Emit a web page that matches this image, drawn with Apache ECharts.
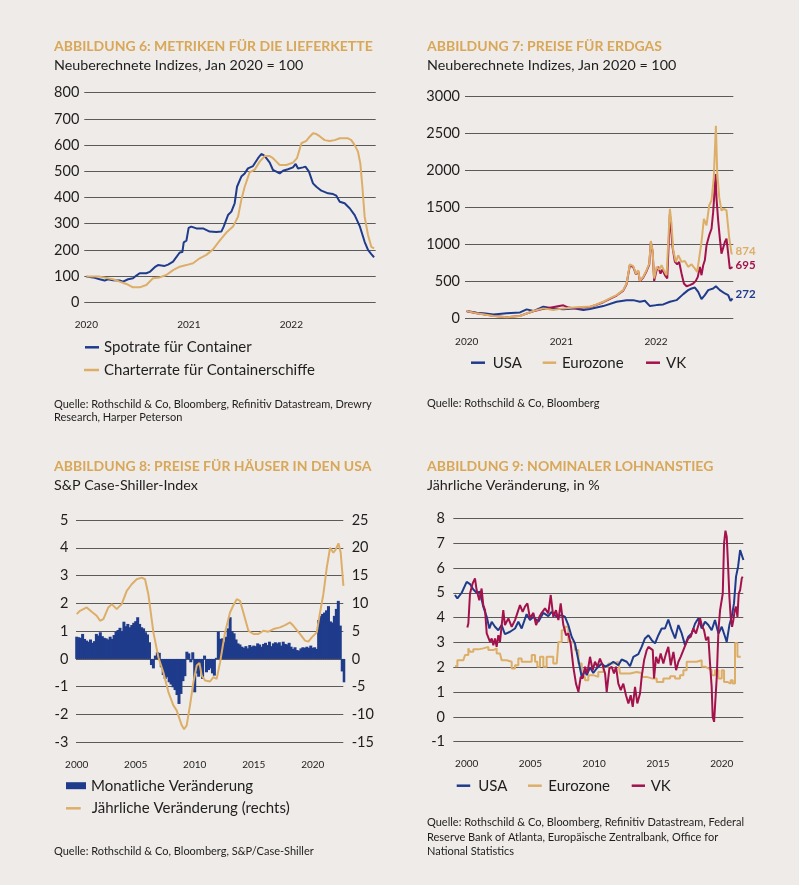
<!DOCTYPE html>
<html>
<head>
<meta charset="utf-8">
<script src="https://cdn.jsdelivr.net/npm/echarts@6/dist/echarts.min.js"></script>
<style>
html,body{margin:0;padding:0;background:#efebe8;}
#c{width:799px;height:885px;}
</style>
</head>
<body>
<div id="c"></div>
<script>
// ---------- Abbildung 6: Lieferkette (Jan 2020 = 100) ----------
const spotContainer = [[2020.00,98],[2020.065,95],[2020.13,88],[2020.179,83],[2020.195,79],[2020.211,88],[2020.26,84],[2020.325,83],[2020.358,79],[2020.407,88],[2020.455,92],[2020.488,102],[2020.52,111],[2020.585,111],[2020.618,116],[2020.667,134],[2020.699,142],[2020.764,139],[2020.797,144],[2020.846,155],[2020.911,190],[2020.937,192],[2020.95,229],[2020.976,235],[2020.998,284],[2021.024,289],[2021.073,282],[2021.138,282],[2021.203,270],[2021.268,268],[2021.317,270],[2021.34,289],[2021.382,333],[2021.415,346],[2021.447,378],[2021.47,441],[2021.512,480],[2021.545,492],[2021.577,511],[2021.626,520],[2021.675,550],[2021.707,566],[2021.73,562],[2021.756,550],[2021.789,533],[2021.821,505],[2021.854,499],[2021.886,492],[2021.919,502],[2021.967,508],[2022.016,515],[2022.042,528],[2022.065,511],[2022.114,515],[2022.137,518],[2022.172,499],[2022.211,454],[2022.244,441],[2022.293,426],[2022.358,416],[2022.407,413],[2022.439,407],[2022.472,384],[2022.52,378],[2022.569,359],[2022.618,333],[2022.667,291],[2022.715,231],[2022.748,200],[2022.78,184],[2022.807,172]];
const charterShips = [[2020.00,98],[2020.13,98],[2020.26,88],[2020.325,79],[2020.39,70],[2020.455,57],[2020.52,57],[2020.585,66],[2020.65,92],[2020.715,95],[2020.78,104],[2020.846,123],[2020.911,136],[2020.976,142],[2021.041,149],[2021.106,168],[2021.171,181],[2021.236,202],[2021.301,235],[2021.366,266],[2021.431,289],[2021.48,327],[2021.512,391],[2021.545,441],[2021.593,496],[2021.642,506],[2021.691,537],[2021.74,558],[2021.789,558],[2021.821,550],[2021.854,537],[2021.886,524],[2021.951,524],[2022.016,533],[2022.055,550],[2022.098,607],[2022.146,616],[2022.179,632],[2022.211,645],[2022.244,642],[2022.276,634],[2022.325,619],[2022.374,616],[2022.423,619],[2022.472,626],[2022.553,626],[2022.585,619],[2022.618,600],[2022.65,575],[2022.673,530],[2022.693,441],[2022.715,327],[2022.748,257],[2022.78,212],[2022.807,206]];
const yearTicks6 = [2020, 2021, 2022];

// ---------- Abbildung 7: Erdgas (Jan 2020 = 100) ----------
const gasUSA = [[2020.0,103],[2020.106,81],[2020.2,70],[2020.282,58],[2020.423,72],[2020.563,85],[2020.634,126],[2020.704,103],[2020.81,162],[2020.915,139],[2021.021,126],[2021.127,139],[2021.232,117],[2021.302,130],[2021.443,170],[2021.584,228],[2021.689,250],[2021.76,250],[2021.83,228],[2021.883,241],[2021.936,170],[2022.006,183],[2022.077,192],[2022.147,228],[2022.217,250],[2022.288,331],[2022.34,385],[2022.376,407],[2022.411,420],[2022.446,362],[2022.481,264],[2022.516,318],[2022.552,385],[2022.604,407],[2022.633,438],[2022.675,385],[2022.728,340],[2022.763,318],[2022.788,240],[2022.809,272]];
const gasEuro = [[2020.0,103],[2020.106,72],[2020.282,36],[2020.423,18],[2020.563,36],[2020.704,103],[2020.81,139],[2020.915,117],[2021.021,139],[2021.162,153],[2021.268,162],[2021.302,161],[2021.372,192],[2021.443,228],[2021.513,273],[2021.584,318],[2021.654,385],[2021.689,474],[2021.724,733],[2021.76,707],[2021.788,608],[2021.812,653],[2021.83,510],[2021.865,563],[2021.9,653],[2021.929,742],[2021.946,1046],[2021.964,921],[2021.981,541],[2022.006,698],[2022.034,662],[2022.059,720],[2022.083,653],[2022.112,586],[2022.133,563],[2022.147,1480],[2022.164,1279],[2022.182,921],[2022.21,765],[2022.235,854],[2022.27,765],[2022.305,778],[2022.34,698],[2022.376,733],[2022.411,675],[2022.435,631],[2022.453,787],[2022.481,1033],[2022.506,1346],[2022.534,1257],[2022.562,1525],[2022.587,1592],[2022.611,1905],[2022.633,2598],[2022.647,1972],[2022.668,1637],[2022.692,1458],[2022.717,1480],[2022.745,1458],[2022.773,1100],[2022.798,877],[2022.809,874]];
const gasUK = [[2020.0,100],[2020.106,74],[2020.282,38],[2020.423,20],[2020.563,38],[2020.704,100],[2020.81,132],[2020.95,165],[2021.021,180],[2021.075,150],[2021.127,140],[2021.232,150],[2021.302,158],[2021.372,188],[2021.443,222],[2021.513,268],[2021.584,312],[2021.654,378],[2021.689,465],[2021.724,720],[2021.76,695],[2021.788,600],[2021.812,640],[2021.83,505],[2021.865,555],[2021.9,640],[2021.929,730],[2021.946,1030],[2021.964,905],[2021.981,510],[2022.006,653],[2022.024,698],[2022.048,608],[2022.069,662],[2022.094,586],[2022.119,541],[2022.147,1413],[2022.175,966],[2022.2,765],[2022.224,733],[2022.245,765],[2022.27,608],[2022.295,474],[2022.323,438],[2022.358,452],[2022.393,474],[2022.421,510],[2022.442,563],[2022.464,698],[2022.481,586],[2022.499,720],[2022.516,787],[2022.534,988],[2022.562,1122],[2022.587,1212],[2022.604,1435],[2022.615,1637],[2022.629,1950],[2022.64,1615],[2022.657,1324],[2022.675,1078],[2022.692,877],[2022.71,877],[2022.728,1033],[2022.745,1078],[2022.763,877],[2022.78,675],[2022.791,653],[2022.809,695]];
const yearTicks7 = [2020, 2021, 2022];

// ---------- Abbildung 8: Häuserpreise USA ----------
const houseStartYear = 2000;          // first bar: Jan 2000, one bar every two months
const houseMonthly = [
 0.80,0.78,0.76,0.90,0.72,0.66, 0.62,0.70,0.58,0.64,0.90,0.84, 0.96,0.82,0.76,0.74,0.70,0.80,
 0.72,0.86,0.98,1.04,1.12,1.00, 1.34,1.18,1.26,1.14,1.22,1.30, 1.36,1.50,1.26,1.14,1.10,0.96,
 0.88,0.60,-0.22,-0.34,0.12,0.24, 0.22,-0.30,-0.58,-0.72,-0.66,-0.84, -0.92,-1.02,-1.12,-1.30,-1.62,-1.26,
 -0.80,-0.62,0.26,0.20,-0.12,0.24, -1.20,-0.52,-0.64,-0.30,-0.72,0.12, -0.48,-0.40,-0.34,-0.52,-0.60,0.04,
 0.98,0.72,0.74,0.62,0.80,1.10, 1.50,1.00,0.92,0.70,0.56,0.52, 0.44,0.40,0.46,0.38,0.50,0.44,
 0.48,0.46,0.56,0.52,0.44,0.54, 0.58,0.50,0.62,0.46,0.56,0.60, 0.56,0.60,0.48,0.62,0.54,0.52,
 0.58,0.44,0.36,0.42,0.32,0.30, 0.38,0.42,0.40,0.44,0.40,0.48, 0.40,0.42,0.36,1.40,1.55,1.62,
 1.67,1.75,1.90,1.35,1.31,1.55, 1.80,2.09,1.20,-0.45,-0.84];
const houseAnnual = [[2000.0,8.06],[2000.28,8.66],[2000.85,9.26],[2001.27,8.48],[2001.69,7.77],[2001.98,6.87],[2002.26,7.17],[2002.68,9.26],[2002.97,9.86],[2003.39,8.96],[2003.81,9.86],[2004.24,12.25],[2004.66,13.44],[2005.08,14.34],[2005.51,14.64],[2005.79,14.34],[2006.07,11.65],[2006.5,4.78],[2006.92,0.3],[2007.34,-2.39],[2007.77,-5.97],[2008.19,-8.36],[2008.47,-9.26],[2008.9,-11.95],[2009.1,-12.66],[2009.32,-11.95],[2009.6,-8.36],[2009.89,-4.18],[2010.17,-1.19],[2010.4,-0.72],[2010.59,-2.99],[2010.88,-3.88],[2011.3,-4.06],[2011.58,-3.29],[2011.86,-3.58],[2012.15,-0.6],[2012.57,4.78],[2012.99,8.36],[2013.28,9.68],[2013.56,10.75],[2013.84,10.45],[2014.12,8.36],[2014.55,5.08],[2014.97,4.48],[2015.4,4.48],[2015.82,5.08],[2016.24,4.9],[2016.67,5.38],[2017.23,5.68],[2017.66,6.09],[2018.08,6.57],[2018.36,5.97],[2018.93,4.48],[2019.35,3.29],[2019.63,3.11],[2019.92,3.88],[2020.34,4.78],[2020.62,8.36],[2020.9,11.65],[2021.19,16.43],[2021.47,20.0],[2021.75,19.1],[2021.95,19.7],[2022.18,20.8],[2022.37,19.1],[2022.6,13.14]];
const yearTicks8 = [2000, 2005, 2010, 2015, 2020];

// ---------- Abbildung 9: Nominaler Lohnanstieg ----------
const wageUSA = [[1999.08,4.91],[1999.27,4.77],[1999.61,5.0],[2000.0,5.44],[2000.26,5.35],[2000.52,5.13],[2000.78,5.0],[2001.04,5.04],[2001.3,4.44],[2001.57,4.03],[2001.78,3.56],[2001.96,3.83],[2002.22,3.63],[2002.48,3.49],[2002.74,3.7],[2003.0,3.33],[2003.4,3.43],[2003.79,3.56],[2004.05,3.83],[2004.31,3.56],[2004.7,4.14],[2004.96,3.9],[2005.23,4.03],[2005.62,3.83],[2006.01,4.19],[2006.4,4.06],[2006.66,4.23],[2007.06,4.03],[2007.45,4.1],[2007.71,4.03],[2007.97,3.7],[2008.23,3.23],[2008.49,2.96],[2008.76,2.28],[2009.02,1.61],[2009.28,1.88],[2009.41,1.68],[2009.67,1.99],[2009.93,1.77],[2010.19,1.95],[2010.59,2.15],[2010.85,2.02],[2011.24,2.12],[2011.5,2.22],[2011.89,2.08],[2012.15,2.31],[2012.55,2.22],[2012.81,2.04],[2013.07,2.42],[2013.46,2.53],[2013.72,2.82],[2013.98,3.16],[2014.25,3.29],[2014.51,3.09],[2014.77,2.96],[2015.03,3.29],[2015.29,3.56],[2015.55,3.56],[2015.81,3.92],[2016.08,3.49],[2016.34,3.16],[2016.6,3.7],[2016.86,3.36],[2017.12,2.89],[2017.38,3.23],[2017.64,3.36],[2017.91,3.76],[2018.17,3.97],[2018.43,3.56],[2018.69,3.83],[2018.95,3.7],[2019.21,3.49],[2019.47,3.9],[2019.74,3.36],[2020.0,3.63],[2020.26,3.23],[2020.39,3.02],[2020.6,3.7],[2020.78,4.03],[2020.96,4.57],[2021.12,5.65],[2021.28,6.05],[2021.44,6.72],[2021.59,6.69],[2021.7,6.32]];
const wageEuro = [[1999.08,2.04],[1999.27,2.28],[1999.74,2.28],[1999.87,2.49],[2000.13,2.76],[2000.26,2.62],[2000.52,2.72],[2000.91,2.76],[2001.3,2.82],[2001.7,2.69],[2002.09,2.76],[2002.35,2.55],[2002.61,2.55],[2002.74,2.28],[2003.13,2.22],[2003.53,1.95],[2003.79,2.08],[2004.05,2.35],[2004.31,2.22],[2004.7,2.22],[2005.1,2.49],[2005.36,2.22],[2005.54,2.02],[2005.75,2.42],[2006.01,2.02],[2006.27,2.42],[2006.53,2.42],[2006.79,2.15],[2007.06,2.15],[2007.19,3.02],[2007.45,3.49],[2007.71,3.63],[2007.97,3.02],[2008.23,2.96],[2008.49,2.69],[2008.76,2.15],[2009.02,1.61],[2009.28,1.48],[2009.54,1.68],[2009.93,1.61],[2010.32,1.81],[2010.72,2.02],[2011.11,2.15],[2011.5,2.22],[2011.89,2.15],[2012.02,1.75],[2012.42,1.75],[2012.81,1.81],[2013.33,1.77],[2013.72,1.61],[2014.12,1.55],[2014.51,1.55],[2014.9,1.41],[2015.42,1.55],[2015.95,1.64],[2016.34,1.55],[2016.73,1.68],[2016.99,1.88],[2017.25,2.22],[2017.64,2.22],[2018.04,2.28],[2018.43,2.02],[2018.69,1.95],[2018.95,1.88],[2019.21,1.68],[2019.47,1.88],[2019.74,1.55],[2020.0,1.88],[2020.18,1.41],[2020.44,1.34],[2020.7,1.48],[2020.86,1.34],[2021.04,2.98],[2021.23,2.42],[2021.49,2.42]];
const wageUK = [[2000.05,3.6],[2000.13,3.76],[2000.26,4.97],[2000.47,5.38],[2000.65,5.58],[2000.78,5.11],[2000.99,4.7],[2001.17,5.17],[2001.3,4.5],[2001.44,4.3],[2001.57,3.36],[2001.7,3.36],[2001.83,3.02],[2001.96,3.16],[2002.09,2.89],[2002.22,3.16],[2002.35,2.82],[2002.48,3.29],[2002.61,3.02],[2002.87,4.3],[2003.0,3.7],[2003.27,3.97],[2003.53,3.63],[2003.79,3.9],[2004.05,4.3],[2004.18,4.5],[2004.39,4.23],[2004.57,4.44],[2004.76,4.57],[2004.96,3.97],[2005.23,4.19],[2005.44,3.7],[2005.7,4.03],[2005.88,4.19],[2006.14,4.37],[2006.4,4.17],[2006.59,4.91],[2006.79,4.03],[2007.0,4.3],[2007.19,3.9],[2007.37,4.57],[2007.58,3.7],[2007.79,3.29],[2007.97,3.36],[2008.15,2.96],[2008.36,2.02],[2008.57,1.34],[2008.76,1.01],[2008.94,1.61],[2009.1,1.55],[2009.28,2.02],[2009.46,1.75],[2009.67,2.42],[2009.88,1.88],[2010.06,2.22],[2010.25,2.02],[2010.45,2.35],[2010.66,2.08],[2010.85,1.75],[2010.98,1.01],[2011.19,1.95],[2011.37,2.02],[2011.55,1.75],[2011.71,2.02],[2011.89,1.34],[2012.08,1.08],[2012.28,1.34],[2012.49,0.87],[2012.68,0.54],[2012.86,0.87],[2013.02,0.4],[2013.2,1.21],[2013.38,0.54],[2013.59,0.94],[2013.72,1.61],[2013.91,2.28],[2014.12,2.69],[2014.25,2.82],[2014.38,2.89],[2014.59,2.69],[2014.69,1.55],[2014.85,2.42],[2015.03,2.15],[2015.21,2.55],[2015.42,2.15],[2015.63,2.55],[2015.81,2.82],[2016.0,2.08],[2016.21,2.62],[2016.42,1.88],[2016.6,2.22],[2016.78,2.42],[2016.99,2.69],[2017.2,2.96],[2017.38,3.16],[2017.57,3.23],[2017.77,3.56],[2017.98,3.36],[2018.17,3.7],[2018.3,3.97],[2018.43,3.7],[2018.61,3.49],[2018.77,3.09],[2018.95,3.23],[2019.08,2.15],[2019.21,1.21],[2019.29,0.0],[2019.4,-0.2],[2019.5,-0.13],[2019.61,1.61],[2019.74,3.49],[2019.87,4.3],[2020.0,4.3],[2020.08,4.97],[2020.18,6.99],[2020.29,7.5],[2020.39,7.26],[2020.49,6.18],[2020.6,4.84],[2020.7,4.03],[2020.81,3.63],[2020.91,3.9],[2021.02,4.3],[2021.12,4.44],[2021.23,4.03],[2021.33,4.97],[2021.44,5.11],[2021.57,5.58],[2021.64,5.65]];
const yearTicks9 = [2000, 2005, 2010, 2015, 2020];

// ---------- styling ----------
const NAVY = '#1f3b8b', GOLD = '#dcae68', RED = '#a3124b', TITLE = '#d8a758', INK = '#1e1e1e', GRID = '#5a5a5a';
const FONT = 'Lato';

const houseBars = houseMonthly.map((v, i) => [houseStartYear + i / 6, v]);

function xAxisCfg(grid, min, max, ticks, margin) {
  return {
    type: 'value', gridIndex: grid, min: min, max: max,
    axisLine: {show: false}, axisTick: {show: false}, splitLine: {show: false},
    axisLabel: {customValues: ticks, fontSize: 10, color: INK, fontFamily: FONT, margin: margin,
      formatter: v => String(Math.round(v))}
  };
}
function yAxisCfg(grid, min, max, interval, margin, pos, split) {
  return {
    type: 'value', gridIndex: grid, min: min, max: max, interval: interval, position: pos || 'left',
    axisLine: {show: false}, axisTick: {show: false},
    splitLine: {show: split !== false, lineStyle: {color: GRID, width: 1}},
    axisLabel: {fontSize: 14.5, color: INK, fontFamily: FONT, margin: margin, formatter: v => String(v)}
  };
}
function lineSeries(name, data, color, xi, yi, extra) {
  return Object.assign({
    type: 'line', name: name, data: data, xAxisIndex: xi, yAxisIndex: yi,
    showSymbol: false, symbol: 'none', smooth: false,
    lineStyle: {color: color, width: 2}, itemStyle: {color: color}, z: 3
  }, extra || {});
}
function legendItem(name, left, centerY, w, h, padLeft, icon) {
  return {
    data: [name], left: left, top: centerY - 8.5, padding: 0, selectedMode: false,
    icon: icon || 'rect', itemWidth: w, itemHeight: h,
    textStyle: {fontSize: 15, color: INK, fontFamily: FONT, lineHeight: 17, padding: [0, 0, 0, padLeft || 0]}
  };
}
function txt(x, y, text, size, color, weight, lh) {
  return {type: 'text', x: x, y: y, silent: true,
    style: {text: text, fill: color, fontSize: size, fontFamily: FONT, fontWeight: weight || 'normal',
      verticalAlign: 'middle', lineHeight: lh || size + 3}};
}
function txtTop(x, y, text, size, color, lh) {
  return {type: 'text', x: x, y: y, silent: true,
    style: {text: text, fill: color, fontSize: size, fontFamily: FONT, verticalAlign: 'top', lineHeight: lh}};
}

const chart = echarts.init(document.getElementById('c'), null, {renderer: 'canvas'});
chart.setOption({
  backgroundColor: '#efebe8',
  animation: false,
  textStyle: {fontFamily: FONT},
  grid: [
    {left: 84.3, top: 92.7, width: 291.4, height: 209.6},
    {left: 465, top: 96, width: 268.3, height: 222.7},
    {left: 76, top: 520, width: 267.3, height: 222.3},
    {left: 453.3, top: 518.3, width: 290, height: 223.4}
  ],
  xAxis: [
    xAxisCfg(0, 2019.98, 2022.823, yearTicks6, 17),
    xAxisCfg(1, 2019.982, 2022.817, yearTicks7, 18),
    xAxisCfg(2, 1999.94, 2022.59, yearTicks8, 17),
    xAxisCfg(3, 1998.95, 2021.69, yearTicks9, 17)
  ],
  yAxis: [
    yAxisCfg(0, 0, 800, 100, 5),
    yAxisCfg(1, 0, 3000, 500, 5),
    yAxisCfg(2, -3, 5, 1, 7.7),
    yAxisCfg(2, -15, 25, 5, 8.4, 'right', false),
    yAxisCfg(3, -1, 8, 1, 8.3)
  ],
  legend: [
    legendItem('Spotrate für Container', 85, 347.3, 14, 2.5, 0),
    legendItem('Charterrate für Containerschiffe', 84, 370, 15, 2.5, 0),
    legendItem('USA', 471, 362.7, 14, 2.5, 2.7),
    legendItem('Eurozone', 542.7, 362.7, 13.5, 2.5, 0.8),
    legendItem('VK', 646, 362.7, 14, 2.5, 1),
    legendItem('Monatliche Veränderung', 66, 785.7, 20, 7, 0),
    legendItem('Jährliche Veränderung (rechts)', 66, 808.3, 14.7, 2.5, 6),
    legendItem('USA ', 456.7, 785.7, 13.5, 2.5, 3),
    legendItem('Eurozone ', 528, 785.7, 13.7, 2.5, 1.6),
    legendItem('VK ', 631.7, 785.7, 13.3, 2.5, 0.7)
  ],
  series: [
    lineSeries('Spotrate für Container', spotContainer, NAVY, 0, 0),
    lineSeries('Charterrate für Containerschiffe', charterShips, GOLD, 0, 0),

    lineSeries('USA', gasUSA, NAVY, 1, 1, {endLabel: {show: true, formatter: p => Math.round(p.value[1]), color: NAVY, fontSize: 11.5, fontFamily: FONT, fontWeight: 'bold', distance: 3, offset: [0, -4]}}),
    lineSeries('VK', gasUK, RED, 1, 1, {endLabel: {show: true, formatter: p => Math.round(p.value[1]), color: RED, fontSize: 11.5, fontFamily: FONT, fontWeight: 'bold', distance: 3, offset: [0, -2]}}),
    lineSeries('Eurozone', gasEuro, GOLD, 1, 1, {endLabel: {show: true, formatter: p => Math.round(p.value[1]), color: GOLD, fontSize: 11.5, fontFamily: FONT, fontWeight: 'bold', distance: 3, offset: [0, -3]}}),

    {type: 'bar', name: 'Monatliche Veränderung', data: houseBars, xAxisIndex: 2, yAxisIndex: 2,
      barWidth: 3, itemStyle: {color: NAVY}, z: 2},
    lineSeries('Jährliche Veränderung (rechts)', houseAnnual, GOLD, 2, 3),

    lineSeries('Eurozone ', wageEuro, GOLD, 3, 4, {step: 'end'}),
    lineSeries('USA ', wageUSA, NAVY, 3, 4),
    lineSeries('VK ', wageUK, RED, 3, 4)
  ],
  graphic: [
    txt(54, 46, 'ABBILDUNG 6: METRIKEN FÜR DIE LIEFERKETTE', 14, TITLE, 'bold'),
    txt(54, 65.5, 'Neuberechnete Indizes, Jan 2020 = 100', 14.3, INK),
    txt(427, 46, 'ABBILDUNG 7: PREISE FÜR ERDGAS', 14, TITLE, 'bold'),
    txt(427, 65.5, 'Neuberechnete Indizes, Jan 2020 = 100', 14.3, INK),
    txt(54, 466, 'ABBILDUNG 8: PREISE FÜR HÄUSER IN DEN USA', 14, TITLE, 'bold'),
    txt(54, 485.5, 'S&P Case-Shiller-Index', 14.3, INK),
    txt(427, 466, 'ABBILDUNG 9: NOMINALER LOHNANSTIEG', 14, TITLE, 'bold'),
    txt(427, 485.5, 'Jährliche Veränderung, in %', 14.3, INK),
    txtTop(54, 397.6, 'Quelle: Rothschild & Co, Bloomberg, Refinitiv Datastream, Drewry\nResearch, Harper Peterson', 11, INK, 13.4),
    txtTop(427, 396.6, 'Quelle: Rothschild & Co, Bloomberg', 11, INK, 13.4),
    txtTop(54, 845, 'Quelle: Rothschild & Co, Bloomberg, S&P/Case-Shiller', 11, INK, 13.4),
    txtTop(427, 815, 'Quelle: Rothschild & Co, Bloomberg, Refinitiv Datastream, Federal\nReserve Bank of Atlanta, Europäische Zentralbank, Office for\nNational Statistics', 11, INK, 14.7)
  ]
});
</script>
</body>
</html>
